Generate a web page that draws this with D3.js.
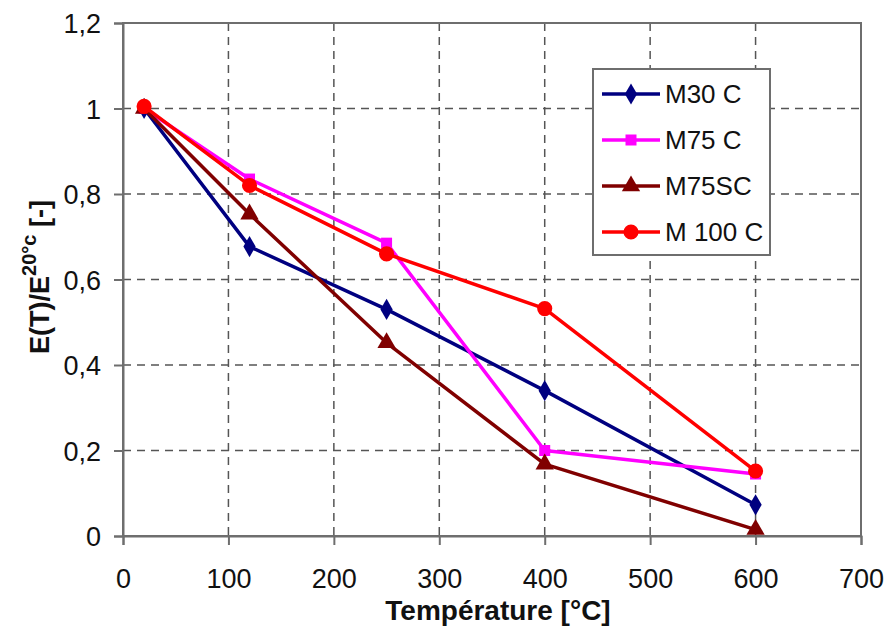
<!DOCTYPE html>
<html>
<head>
<meta charset="utf-8">
<script src="https://cdn.jsdelivr.net/npm/d3@7"></script>
<style>
  body { margin: 0; background: #fff; }
  svg { font-family: "Liberation Sans", Arial, sans-serif; }
</style>
</head>
<body>
<script>
// temperatures and normalised modulus E(T)/E20
var temps = [20, 120, 250, 400, 600];
var m30c = [1.0, 0.677, 0.53, 0.34, 0.073];
var m75c = [1.0, 0.835, 0.685, 0.2, 0.145];
var m75sc = [1.0, 0.753, 0.452, 0.168, 0.015];
var m100c = [1.005, 0.82, 0.66, 0.532, 0.152];

var seriesNames = ["M30 C", "M75 C", "M75SC", "M 100 C"];
var seriesColors = ["#000080", "#ff00ff", "#800000", "#ff0000"];
var seriesMarkers = ["diamond", "square", "triangle", "circle"];

var xTicks = [0, 100, 200, 300, 400, 500, 600, 700];
var yTicks = [0, 0.2, 0.4, 0.6, 0.8, 1, 1.2];

var w = 892, h = 630;
var plotLeft = 123, plotTop = 23, plotRight = 861, plotBottom = 536;

var svg = d3.select("body").append("svg")
  .attr("width", w)
  .attr("height", h);

var x = d3.scaleLinear().domain([0, 700]).range([plotLeft, plotRight]);
var y = d3.scaleLinear().domain([0, 1.2]).range([plotBottom, plotTop]);

// dashed grid
svg.append("g")
  .selectAll("line")
  .data(xTicks.slice(1, -1))
  .enter().append("line")
  .attr("x1", d => x(d)).attr("x2", d => x(d))
  .attr("y1", plotTop).attr("y2", plotBottom)
  .attr("stroke", "#555")
  .attr("stroke-width", 1.5)
  .attr("stroke-dasharray", "8,6");

svg.append("g")
  .selectAll("line")
  .data(yTicks.slice(1, -1))
  .enter().append("line")
  .attr("x1", plotLeft).attr("x2", plotRight)
  .attr("y1", d => y(d)).attr("y2", d => y(d))
  .attr("stroke", "#555")
  .attr("stroke-width", 1.5)
  .attr("stroke-dasharray", "8,6");

// frame
svg.append("rect")
  .attr("x", plotLeft).attr("y", plotTop)
  .attr("width", plotRight - plotLeft).attr("height", plotBottom - plotTop)
  .attr("fill", "none")
  .attr("stroke", "#6e6e6e")
  .attr("stroke-width", 2);

var fmt = function(d) { return String(d).replace(".", ","); };

var xAxis = d3.axisBottom(x).tickValues(xTicks).tickSize(9).tickFormat(d3.format("d"));
var yAxis = d3.axisLeft(y).tickValues(yTicks).tickSize(9).tickFormat(fmt);

var gx = svg.append("g")
  .attr("transform", "translate(0," + plotBottom + ")")
  .call(xAxis);
var gy = svg.append("g")
  .attr("transform", "translate(" + plotLeft + ",0)")
  .call(yAxis);

[gx, gy].forEach(function(g) {
  g.select(".domain").attr("stroke", "#6e6e6e").attr("stroke-width", 2);
  g.selectAll(".tick line").attr("stroke", "#6e6e6e").attr("stroke-width", 2);
  g.selectAll("text")
    .attr("fill", "#111")
    .style("font-size", "27px")
    .style("font-family", "'Liberation Sans', Arial, sans-serif");
});
gx.selectAll("text").attr("y", 52).attr("dy", 0);
gy.selectAll("text").attr("x", -22).attr("dy", "0.36em");

// axis titles
svg.append("text")
  .attr("x", 498)
  .attr("y", 620)
  .attr("text-anchor", "middle")
  .style("font-size", "28px")
  .style("font-weight", "bold")
  .attr("fill", "#111")
  .text("Température [°C]");

var yt = svg.append("text")
  .attr("transform", "translate(49,277) rotate(-90)")
  .attr("text-anchor", "middle")
  .style("font-size", "27px")
  .style("font-weight", "bold")
  .attr("fill", "#111");
yt.append("tspan").text("E(T)/E");
yt.append("tspan").attr("dy", -13).style("font-size", "20px").text("20°c");
yt.append("tspan").attr("dy", 13).text(" [-]");

// series
var allSeries = [m30c, m75c, m75sc, m100c];

var line = d3.line()
  .x(function(d, i) { return x(temps[i]); })
  .y(function(d) { return y(d); });

var symbolFor = {
  diamond: d3.symbol().type(d3.symbolDiamond).size(130),
  square: d3.symbol().type(d3.symbolSquare).size(121),
  triangle: d3.symbol().type(d3.symbolTriangle).size(145),
  circle: d3.symbol().type(d3.symbolCircle).size(180)
};

allSeries.forEach(function(vals, k) {
  svg.append("path")
    .datum(vals)
    .attr("d", line)
    .attr("fill", "none")
    .attr("stroke", seriesColors[k])
    .attr("stroke-width", 3.5)
    .attr("stroke-linejoin", "round");

  svg.selectAll(".mk" + k)
    .data(vals)
    .enter().append("path")
    .attr("class", "mk" + k)
    .attr("transform", function(d, i) { return "translate(" + x(temps[i]) + "," + y(d) + ")"; })
    .attr("d", symbolFor[seriesMarkers[k]])
    .attr("fill", seriesColors[k]);
});

// legend
var lg = svg.append("g");
lg.append("rect")
  .attr("x", 593).attr("y", 69)
  .attr("width", 177).attr("height", 186)
  .attr("fill", "#fff")
  .attr("stroke", "#6e6e6e")
  .attr("stroke-width", 2);

var items = lg.selectAll(".legend")
  .data(seriesNames)
  .enter().append("g")
  .attr("class", "legend")
  .attr("transform", function(d, i) { return "translate(0," + (94 + i * 46) + ")"; });

items.append("line")
  .attr("x1", 602).attr("x2", 660)
  .attr("stroke", function(d, i) { return seriesColors[i]; })
  .attr("stroke-width", 3.5);

items.append("path")
  .attr("transform", "translate(631,0)")
  .attr("d", function(d, i) { return symbolFor[seriesMarkers[i]](); })
  .attr("fill", function(d, i) { return seriesColors[i]; });

items.append("text")
  .attr("x", 665)
  .attr("dy", "0.36em")
  .style("font-size", "26px")
  .attr("fill", "#111")
  .text(function(d) { return d; });
</script>
</body>
</html>
